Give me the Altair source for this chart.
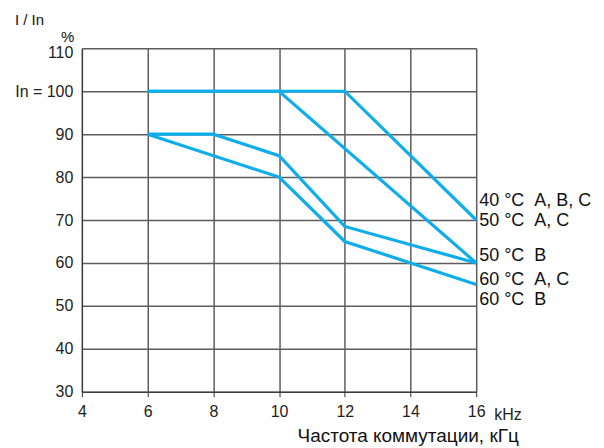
import altair as alt
import pandas as pd

# ---- data ----
freq_40 = [6, 12, 16]
val_40 = [100, 100, 70]
freq_50ac = [6, 10, 16]
val_50ac = [100, 100, 60]
freq_50b = [6, 8, 10, 12, 16]
val_50b = [90, 90, 85, 68.5, 60]
freq_60ac = [6, 10, 12, 16]
val_60ac = [90, 80, 65, 55]

label_texts = ["40 °C\u00a0\u00a0A, B, C", "50 °C\u00a0\u00a0A, C", "50 °C\u00a0\u00a0B",
               "60 °C\u00a0\u00a0A, C", "60 °C\u00a0\u00a0B"]
label_y = [74.5, 69.8, 61.6, 56.0, 51.4]
label_x = [16, 16, 16, 16, 16]

x_ticks = [4, 6, 8, 10, 12, 14, 16]
y_ticks = [30, 40, 50, 60, 70, 80, 90, 100, 110]

rows = []
for name, xs, ys in [("40", freq_40, val_40), ("50AC", freq_50ac, val_50ac),
                     ("50B", freq_50b, val_50b), ("60AC", freq_60ac, val_60ac)]:
    for i, (a, b) in enumerate(zip(xs, ys)):
        rows.append({"series": name, "f": a, "v": b, "order": i})
lines_df = pd.DataFrame(rows)
labels_df = pd.DataFrame({"f": label_x, "v": label_y, "t": label_texts})

FONT = "Liberation Sans"

xscale = alt.Scale(domain=[4, 16], nice=False, zero=False)
yscale = alt.Scale(domain=[30, 110], nice=False, zero=False)

lines = alt.Chart(lines_df).mark_line(color="#0fade9", strokeWidth=3.2).encode(
    x=alt.X("f:Q", scale=xscale,
            axis=alt.Axis(values=x_ticks, title=None, grid=True, gridColor="#5e5e5e",
                          gridWidth=1.5, gridOpacity=1, tickSize=5, tickColor="#333",
                          domainColor="#333", labelFontSize=16, labelFont=FONT,
                          labelColor="#222", labelPadding=7, labelFlush=False)),
    y=alt.Y("v:Q", scale=yscale,
            axis=alt.Axis(values=y_ticks, title=None, grid=True, gridColor="#5e5e5e",
                          gridWidth=1.5, gridOpacity=1, ticks=False, domainColor="#333",
                          labelFontSize=16, labelFont=FONT, labelColor="#222",
                          labelPadding=9, labelFlush=False,
                          labelOffset={"condition": {"test": "datum.value == 110", "value": 4},
                                       "value": 0},
                          labelExpr="datum.value == 100 ? 'In = 100' : datum.label")),
    detail="series:N",
    order="order:Q",
)

labels = alt.Chart(labels_df).mark_text(align="left", baseline="middle", dx=3,
                                        fontSize=18, font=FONT, color="#111").encode(
    x=alt.X("f:Q", scale=xscale), y=alt.Y("v:Q", scale=yscale), text="t:N")

khz = alt.Chart(pd.DataFrame({"f": [16], "v": [30], "t": ["kHz"]})).mark_text(
    align="left", baseline="middle", dx=18, dy=23, fontSize=16, font=FONT, color="#222"
).encode(x=alt.X("f:Q", scale=xscale), y=alt.Y("v:Q", scale=yscale), text="t:N")

extra_df = pd.DataFrame({"t": ["I / In", "%", "Частота коммутации, кГц"],
                         "px": [-67, -21, 216], "py": [-23, -6, 394],
                         "fs": [15, 15, 19]})
extra = alt.Chart(extra_df).mark_text(align="left", baseline="alphabetic", font=FONT,
                                      color="#111").encode(
    x=alt.X("px:Q", scale=None), y=alt.Y("py:Q", scale=None), text="t:N",
    size=alt.Size("fs:Q", scale=None, legend=None))

chart = alt.layer(lines, labels, khz, extra).properties(
    width=395, height=344,
    autosize=alt.AutoSizeParams(type="none"),
    padding={"left": 74, "top": 40, "right": 120, "bottom": 56},
).configure_view(stroke="#444", strokeWidth=1.5).configure(background="white")

chart.save("out.html", embed_options={"renderer": "svg", "actions": False})
